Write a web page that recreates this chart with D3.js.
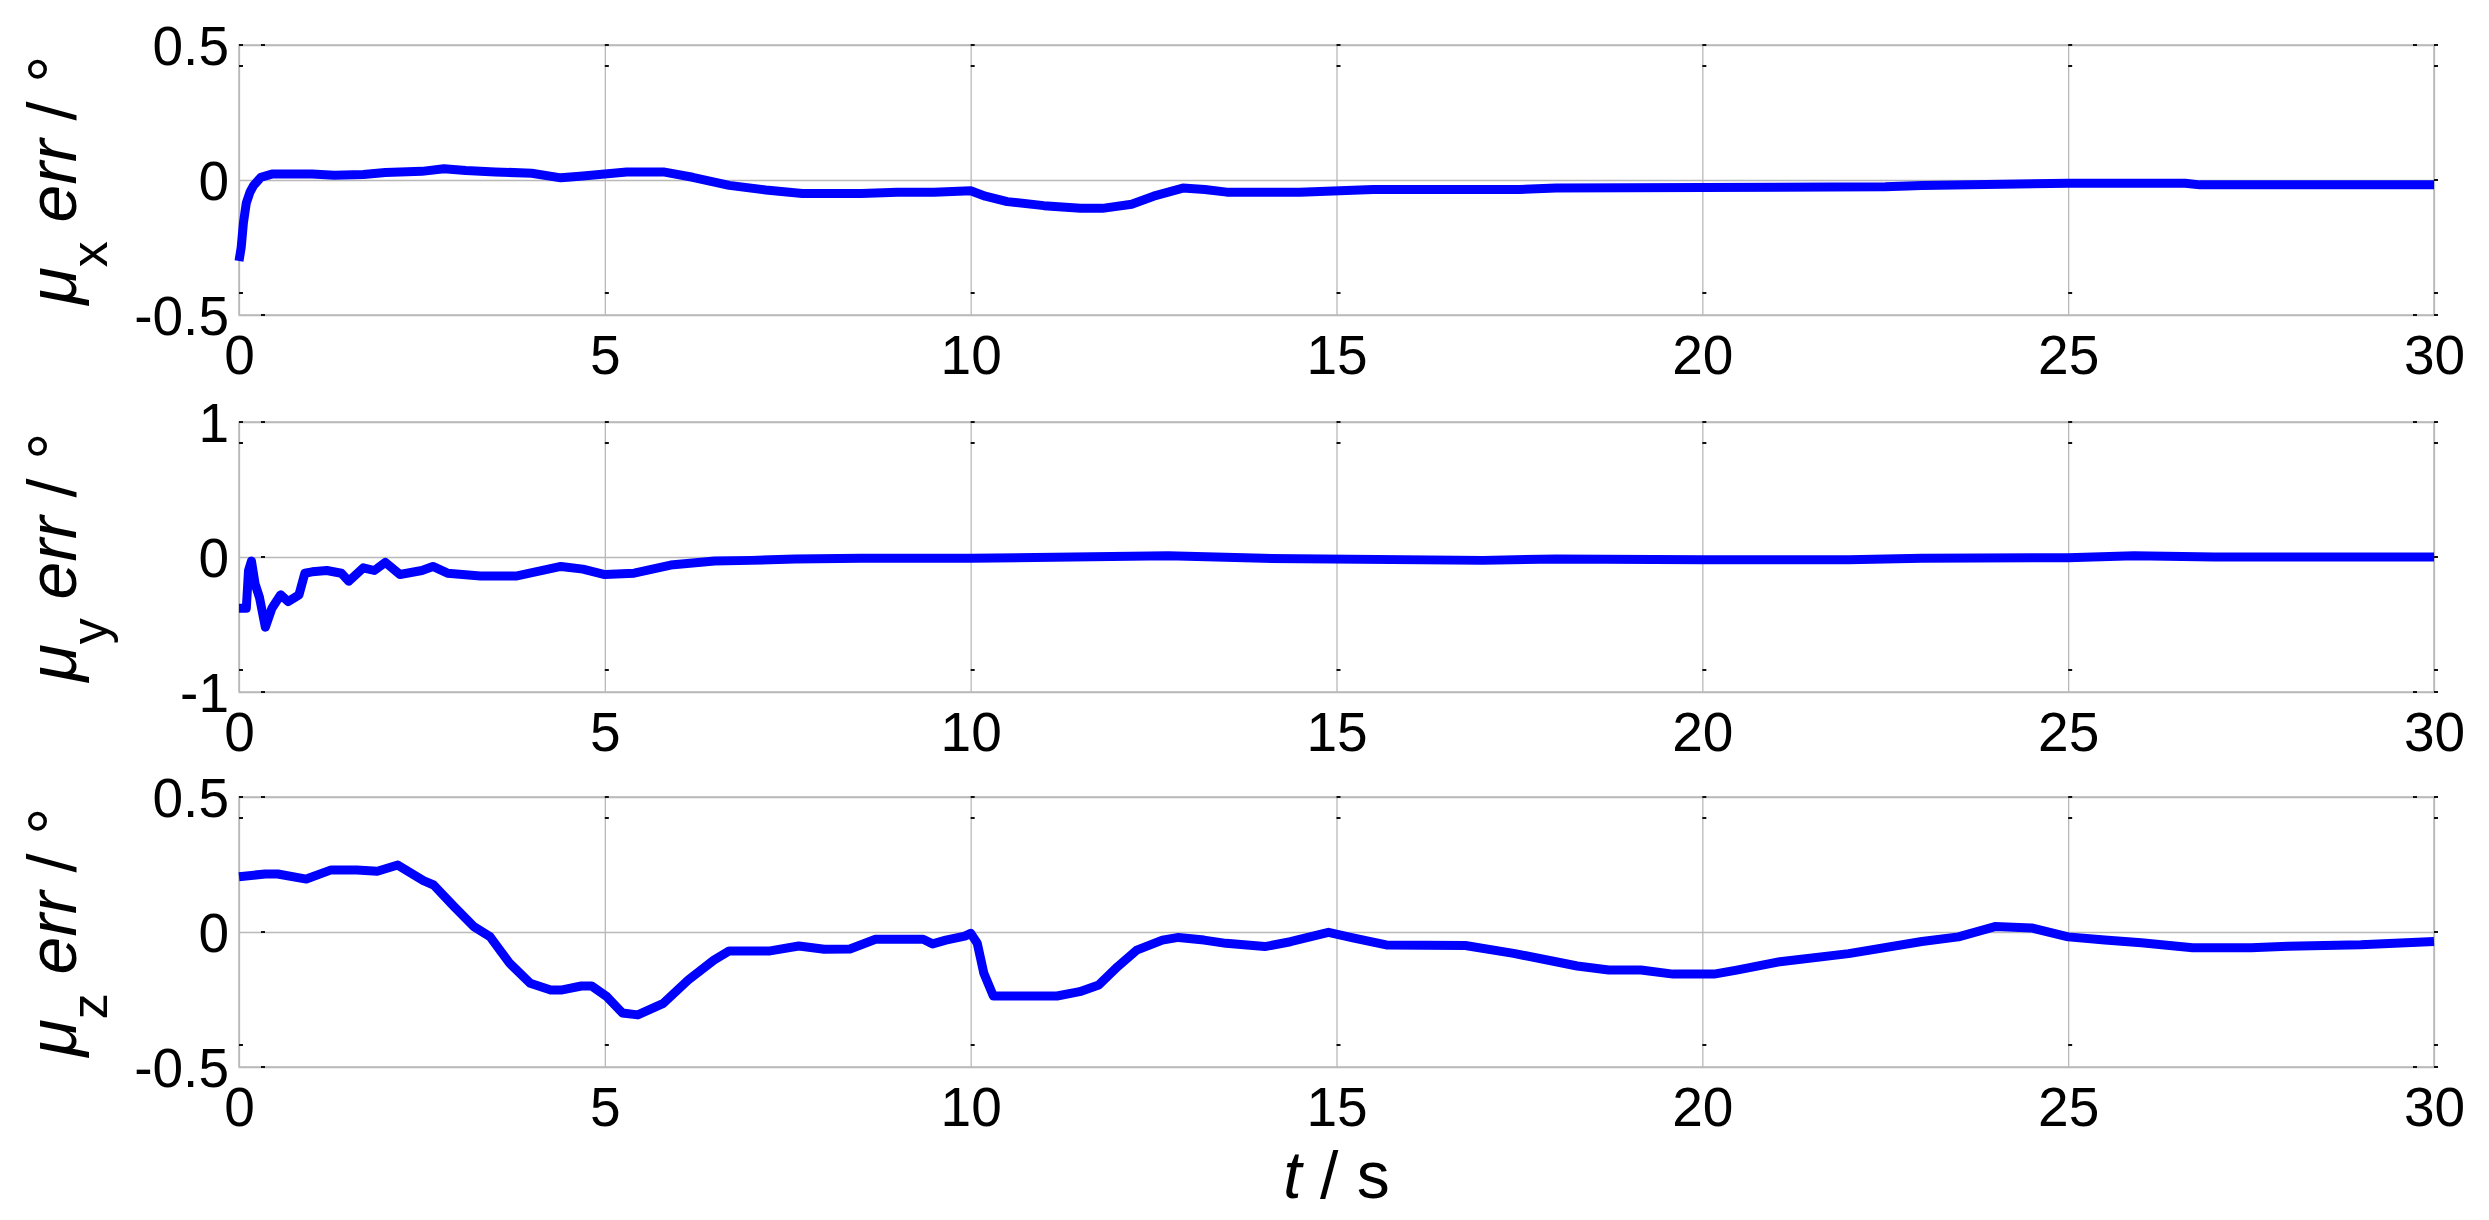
<!DOCTYPE html>
<html>
<head>
<meta charset="utf-8">
<script src="https://cdn.jsdelivr.net/npm/d3@7/dist/d3.min.js"></script>
<style>
  body { margin: 0; background: #fff; }
  svg { display: block; }
  text { font-family: "Liberation Sans", Arial, sans-serif; fill: #000; }
</style>
</head>
<body>
<svg id="chart" width="2489" height="1220"></svg>
<script>
// time axis ticks, shared by all three panels
const xTicks = [0, 5, 10, 15, 20, 25, 30];

// mu_x error (deg)
const tX = [0, 0.03, 0.06, 0.1, 0.15, 0.2, 0.3, 0.45, 1.0, 1.3, 1.7, 2.0, 2.5, 2.8, 3.1, 3.5,
  4.0, 4.4, 4.7, 5.0, 5.3, 5.8, 6.2, 6.7, 7.2, 7.7, 8.0, 8.5, 9.0, 9.5, 10.0, 10.2,
  10.5, 11.0, 11.5, 11.8, 12.2, 12.5, 12.9, 13.2, 13.5, 14.5, 15.5, 17.5, 18.0, 20.0, 22.5, 23.0,
  25.0, 26.6, 26.8, 30.0];
const muX = [-0.30, -0.25, -0.16, -0.085, -0.045, -0.02, 0.01, 0.022, 0.022, 0.018, 0.02, 0.028, 0.032, 0.042, 0.035, 0.03,
  0.025, 0.008, 0.015, 0.022, 0.03, 0.03, 0.01, -0.02, -0.037, -0.05, -0.05, -0.05, -0.045, -0.045, -0.04, -0.06,
  -0.08, -0.095, -0.105, -0.105, -0.09, -0.06, -0.03, -0.035, -0.045, -0.045, -0.035, -0.035, -0.03, -0.028, -0.025, -0.02,
  -0.012, -0.012, -0.018, -0.018];
const yTicksX = [-0.5, 0, 0.5];

// mu_y error (deg)
const tY = [0, 0.1, 0.13, 0.17, 0.22, 0.28, 0.36, 0.45, 0.57, 0.67, 0.82, 0.9, 1.0, 1.2, 1.4, 1.5,
  1.7, 1.85, 2.0, 2.2, 2.5, 2.65, 2.85, 3.3, 3.8, 4.4, 4.7, 5.0, 5.4, 5.9, 6.5, 7.0,
  7.6, 8.5, 10.0, 12.7, 14.0, 17.0, 18.0, 20.0, 22.0, 23.0, 25.0, 25.9, 27.0, 30.0];
const muY = [-0.38, -0.38, -0.1, -0.03, -0.2, -0.3, -0.52, -0.38, -0.28, -0.33, -0.28, -0.12, -0.11, -0.1, -0.12, -0.18,
  -0.08, -0.1, -0.04, -0.13, -0.1, -0.07, -0.12, -0.14, -0.14, -0.07, -0.09, -0.13, -0.12, -0.06, -0.03, -0.025,
  -0.015, -0.01, -0.01, 0.01, -0.01, -0.025, -0.015, -0.02, -0.02, -0.01, -0.005, 0.01, 0.0, 0.0];
const yTicksY = [-1, 0, 1];

// mu_z error (deg)
const tZ = [0, 0.36, 0.53, 0.92, 1.26, 1.61, 1.89, 2.17, 2.52, 2.66,
  2.94, 3.21, 3.43, 3.70, 3.98, 4.26, 4.40, 4.68, 4.82, 5.03,
  5.24, 5.45, 5.8, 6.14, 6.49, 6.7, 7.26, 7.65, 8.0, 8.35,
  8.7, 9.35, 9.48, 9.66, 9.92, 10.0, 10.09, 10.18, 10.31, 11.18,
  11.49, 11.75, 12.01, 12.27, 12.62, 12.84, 13.19, 13.49, 14.02, 14.37,
  14.89, 15.24, 15.68, 16.76, 17.42, 18.29, 18.72, 19.16, 19.6, 20.16,
  20.47, 21.06, 22.0, 23.0, 23.5, 24.0, 24.5, 25.0, 25.5, 26.0,
  26.7, 27.5, 28.0, 29.0, 30.0];
const muZ = [0.205, 0.215, 0.215, 0.196, 0.23, 0.23, 0.225, 0.248, 0.19, 0.174,
  0.094, 0.02, -0.017, -0.116, -0.19, -0.215, -0.215, -0.2, -0.2, -0.24,
  -0.3, -0.307, -0.264, -0.178, -0.104, -0.07, -0.07, -0.052, -0.064, -0.063,
  -0.027, -0.027, -0.044, -0.03, -0.015, -0.005, -0.042, -0.153, -0.237, -0.237,
  -0.221, -0.196, -0.128, -0.067, -0.03, -0.02, -0.03, -0.042, -0.054, -0.036,
  -0.001, -0.023, -0.048, -0.05, -0.079, -0.126, -0.141, -0.141, -0.156, -0.156,
  -0.141, -0.11, -0.08, -0.035, -0.018, 0.02, 0.015, -0.018, -0.03, -0.04,
  -0.058, -0.058, -0.053, -0.047, -0.035];
const yTicksZ = [-0.5, 0, 0.5];

const panels = [
  { sub: "x", t: tX, v: muX, ticks: yTicksX },
  { sub: "y", t: tY, v: muY, ticks: yTicksY },
  { sub: "z", t: tZ, v: muZ, ticks: yTicksZ }
];

const svg = d3.select("#chart");
const left = 239, right = 2434;
const tops = [45, 422, 797];
const h = 270;
const gridColor = "#b9b9b9";

const x = d3.scaleLinear().domain([0, 30]).range([left, right]);

panels.forEach((p, i) => {
  const top = tops[i], bottom = top + h;
  const y = d3.scaleLinear().domain([p.ticks[0], p.ticks[p.ticks.length - 1]]).range([bottom, top]);
  const g = svg.append("g");

  // vertical grid lines
  g.append("g")
    .attr("transform", `translate(0,${bottom})`)
    .call(d3.axisBottom(x).tickValues(xTicks).tickSize(-h).tickFormat(""))
    .call(a => a.select(".domain").remove())
    .selectAll("line").attr("stroke", gridColor).attr("stroke-width", 1.3);

  // horizontal grid lines
  g.append("g")
    .attr("transform", `translate(${left},0)`)
    .call(d3.axisLeft(y).tickValues(p.ticks).tickSize(-(right - left)).tickFormat(""))
    .call(a => a.select(".domain").remove())
    .selectAll("line").attr("stroke", gridColor).attr("stroke-width", 1.3);

  // box
  g.append("rect")
    .attr("x", left).attr("y", top)
    .attr("width", right - left).attr("height", h)
    .attr("fill", "none").attr("stroke", gridColor).attr("stroke-width", 1.5);

  // tiny tick stubs that the exported figure shows along the edges
  const stubs = [];
  xTicks.forEach(tv => {
    const xx = x(tv);
    if (tv === 0) { stubs.push([xx + 22, top], [xx + 22, bottom]); }
    else if (tv === 30) { stubs.push([xx - 21, top], [xx - 21, bottom]); }
    else { stubs.push([xx, top], [xx, top + 21], [xx, bottom - 22]); }
  });
  stubs.push([left, top], [left, top + 21], [left, bottom - 22], [left + 22, y(0)]);
  stubs.push([right, top], [right, top + 21], [right, y(0)], [right, bottom - 22], [right, bottom]);
  g.selectAll("rect.stub").data(stubs).enter().append("rect")
    .attr("class", "stub")
    .attr("x", d => d[0]).attr("y", d => d[1] - 1)
    .attr("width", 4).attr("height", 2)
    .attr("fill", "#111");

  // data line
  const line = d3.line().x(d => x(d[0])).y(d => y(d[1]));
  g.append("path")
    .datum(p.t.map((tv, k) => [tv, p.v[k]]))
    .attr("d", line)
    .attr("fill", "none")
    .attr("stroke", "#0000ff")
    .attr("stroke-width", 9)
    .attr("stroke-linejoin", "round");

  // y tick labels
  const ya = g.append("g")
    .attr("transform", `translate(${left},0)`)
    .call(d3.axisLeft(y).tickValues(p.ticks).tickSize(0).tickPadding(10).tickFormat(d => String(d)));
  ya.select(".domain").remove();
  ya.selectAll("text")
    .attr("font-size", 55)
    .attr("font-family", '"Liberation Sans", Arial, sans-serif')
    .attr("dy", "0.36em");

  // x tick labels
  const xa = g.append("g")
    .attr("transform", `translate(0,${bottom})`)
    .call(d3.axisBottom(x).tickValues(xTicks).tickSize(0).tickPadding(0).tickFormat(d => String(d)));
  xa.select(".domain").remove();
  xa.selectAll("text")
    .attr("font-size", 55)
    .attr("font-family", '"Liberation Sans", Arial, sans-serif')
    .attr("dy", 0)
    .attr("y", 59);

  // y label: mu_sub err / deg
  const cy = (top + bottom) / 2;
  const lab = svg.append("text")
    .attr("transform", `translate(76,${cy}) rotate(-90)`)
    .attr("text-anchor", "middle")
    .attr("font-size", 68);
  lab.append("tspan").attr("font-style", "italic").text("\u03bc");
  lab.append("tspan").attr("font-size", 52).attr("dy", 31).text(p.sub);
  lab.append("tspan").attr("font-style", "italic").attr("dy", -31).text(" err");
  lab.append("tspan").text(" / \u00b0");
});

// x label
const xl = svg.append("text")
  .attr("x", (left + right) / 2)
  .attr("y", 1198)
  .attr("text-anchor", "middle")
  .attr("font-size", 66);
xl.append("tspan").attr("font-style", "italic").text("t");
xl.append("tspan").text(" / s");
</script>
</body>
</html>
